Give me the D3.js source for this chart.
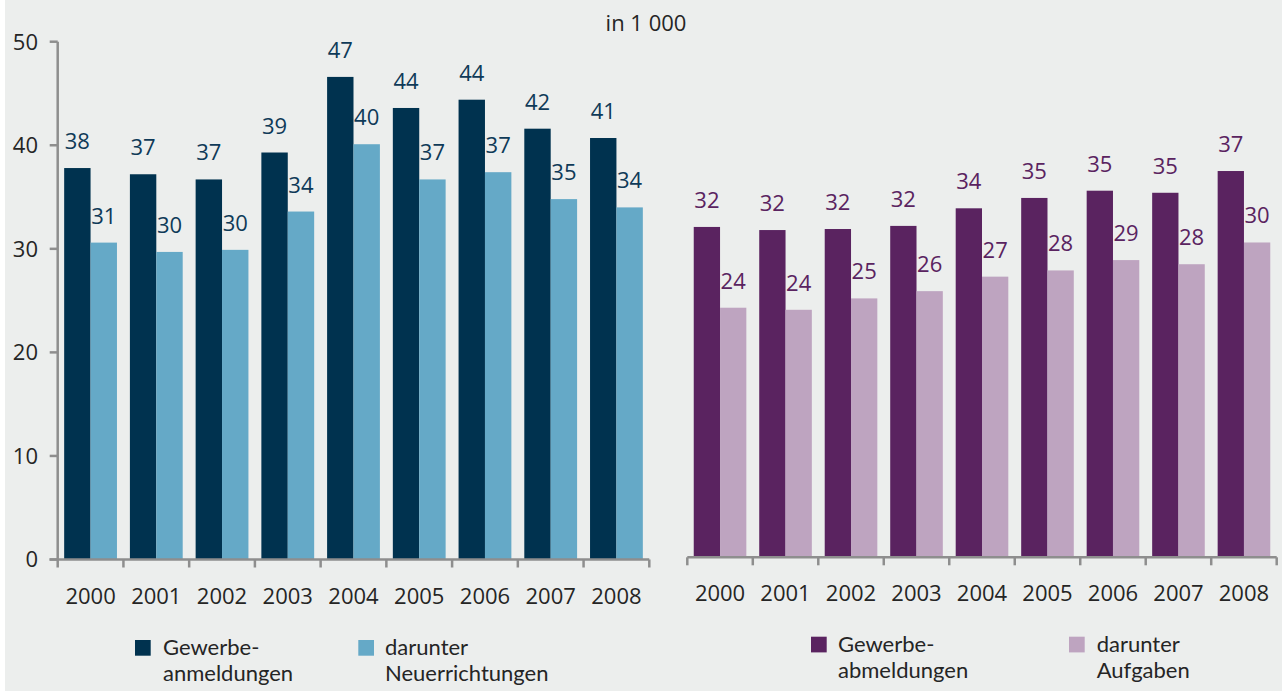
<!DOCTYPE html>
<html>
<head>
<meta charset="utf-8">
<script src="https://cdn.jsdelivr.net/npm/d3@7/dist/d3.min.js"></script>
<style>
  html, body { margin: 0; padding: 0; background: #ffffff; }
  svg { display: block; }
  text { font-family: "Open Sans", "Noto Sans", sans-serif; }
  text.leg { font-family: Lato, "Open Sans", sans-serif; }
</style>
</head>
<body>
<svg id="chart" width="1282" height="691"></svg>
<script>
const years = ["2000","2001","2002","2003","2004","2005","2006","2007","2008"];
const anmeldungen = [37.8, 37.2, 36.7, 39.3, 46.6, 43.6, 44.4, 41.6, 40.7];
const neuerrichtungen = [30.6, 29.7, 29.9, 33.6, 40.1, 36.7, 37.4, 34.8, 34.0];
const abmeldungen = [31.9, 31.6, 31.7, 32.0, 33.7, 34.7, 35.4, 35.2, 37.3];
const aufgaben = [24.1, 23.9, 25.0, 25.7, 27.1, 27.7, 28.7, 28.3, 30.4];
const yTicks = [0, 10, 20, 30, 40, 50];
const title = "in 1 000";
const legendLeft = [["Gewerbe-", "anmeldungen"], ["darunter", "Neuerrichtungen"]];
const legendRight = [["Gewerbe-", "abmeldungen"], ["darunter", "Aufgaben"]];

const colors = {
  bg: "#eceeed",
  axis: "#8e8e8e",
  text: "#252525",
  navy: "#00324f",
  blue: "#65a9c7",
  purple: "#5a2360",
  lilac: "#bea4c0",
  navyLabel: "#0f3a58",
  purpleLabel: "#5a2360"
};

const svg = d3.select("#chart");
svg.append("rect").attr("x", 0).attr("y", 0).attr("width", 1282).attr("height", 691).attr("fill", "#ffffff");
svg.append("rect").attr("x", 5).attr("y", 0).attr("width", 1277).attr("height", 691).attr("fill", colors.bg);

const FS = 22;

svg.append("text").attr("x", 646).attr("y", 31).attr("text-anchor", "middle")
  .attr("font-size", FS).attr("fill", colors.text).text(title);

function panel(opts) {
  const x0 = d3.scaleBand().domain(years).range([opts.xl, opts.xr]).padding(0);
  const x1 = d3.scaleBand().domain(["a", "b"]).range([0, x0.bandwidth()]).paddingInner(0).paddingOuter(0.245);
  const y = d3.scaleLinear().domain([0, 50]).range([opts.base, opts.base - 517.8]);
  const g = svg.append("g");
  const data = years.map((yr, i) => ({ yr, a: opts.s1[i], b: opts.s2[i] }));

  const grp = g.selectAll("g.grp").data(data).join("g").attr("class", "grp")
    .attr("transform", d => `translate(${x0(d.yr)},0)`);
  [["a", opts.c1], ["b", opts.c2]].forEach(([k, c]) => {
    grp.append("rect")
      .attr("x", x1(k)).attr("width", x1.bandwidth())
      .attr("y", d => y(d[k])).attr("height", d => y(0) - y(d[k]))
      .attr("fill", c);
    grp.append("text")
      .attr("x", x1(k) + x1.bandwidth() / 2)
      .attr("y", d => y(d[k]) - 19)
      .attr("text-anchor", "middle").attr("font-size", FS).attr("fill", opts.lc)
      .text(d => Math.round(d[k]));
  });

  // x axis
  const ax = g.append("g").attr("stroke", colors.axis).attr("stroke-width", 2.5).attr("fill", "none");
  ax.append("line").attr("x1", opts.axisStart).attr("x2", opts.xr).attr("y1", y(0)).attr("y2", y(0));
  const bounds = years.map(d => x0(d)).concat([opts.xr]);
  ax.selectAll("line.t").data(bounds).join("line").attr("class", "t")
    .attr("x1", d => d).attr("x2", d => d).attr("y1", y(0)).attr("y2", y(0) + 8);
  g.selectAll("text.yr").data(years).join("text").attr("class", "yr")
    .attr("x", d => x0(d) + x0.bandwidth() / 2).attr("y", opts.yearY)
    .attr("text-anchor", "middle").attr("font-size", FS).attr("fill", colors.text).text(d => d);

  if (opts.yAxis) {
    ax.append("line").attr("x1", opts.xl).attr("x2", opts.xl).attr("y1", y(0)).attr("y2", y(50));
    ax.selectAll("line.yt").data(yTicks).join("line").attr("class", "yt")
      .attr("x1", opts.xl - 8).attr("x2", opts.xl).attr("y1", d => y(d)).attr("y2", d => y(d));
    g.selectAll("text.ytl").data(yTicks).join("text").attr("class", "ytl")
      .attr("x", 38).attr("y", d => y(d)).attr("dy", "0.355em")
      .attr("text-anchor", "end").attr("font-size", FS).attr("fill", colors.text).text(d => d);
  }

  // legend
  opts.legend.forEach((lines, i) => {
    const L = opts.legPos[i];
    g.append("rect").attr("x", L.x).attr("y", L.sq).attr("width", 15.7).attr("height", 15.7)
      .attr("fill", i === 0 ? opts.c1 : opts.c2);
    lines.forEach((ln, j) => {
      g.append("text").attr("class", "leg").attr("font-size", FS).attr("fill", colors.text)
        .attr("x", L.tx).attr("y", L.b1 + j * 26).text(ln);
    });
  });
}

panel({
  xl: 57.7, xr: 649.3, axisStart: 49.5, base: 559.5, yearY: 604, yAxis: true,
  s1: anmeldungen, s2: neuerrichtungen, c1: colors.navy, c2: colors.blue, lc: colors.navyLabel,
  legend: legendLeft,
  legPos: [{ x: 135, sq: 640, tx: 163, b1: 655 }, { x: 358.3, sq: 640, tx: 385, b1: 655 }]
});

panel({
  xl: 687.3, xr: 1276.7, axisStart: 687.3, base: 557.3, yearY: 600.7, yAxis: false,
  s1: abmeldungen, s2: aufgaben, c1: colors.purple, c2: colors.lilac, lc: colors.purpleLabel,
  legend: legendRight,
  legPos: [{ x: 811, sq: 636.7, tx: 838, b1: 652.3 }, { x: 1069, sq: 636.7, tx: 1096.7, b1: 652 }]
});
</script>
</body>
</html>
